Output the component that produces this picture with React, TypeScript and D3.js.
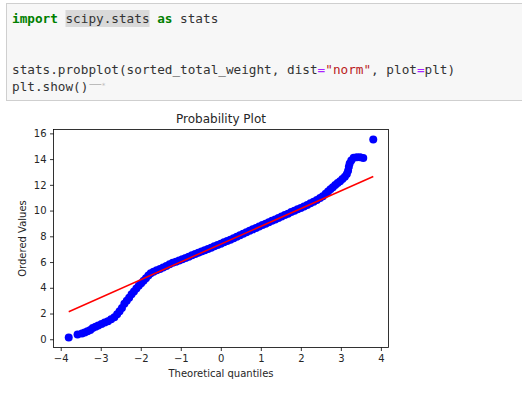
import React, { useEffect, useRef } from 'react';
import * as d3 from 'd3';

// theoretical quantiles (osm) and ordered values (osr)
const quantiles = [
  -3.8, -3.58, -3.47, -3.4, -3.33, -3.26, -3.2, -3.13, -3.06, -2.98, -2.9, -2.82,
  -2.74, -2.66, -2.59, -2.53, -2.47, -2.41, -2.35, -2.29, -2.23, -2.17, -2.11,
  -2.05, -1.99, -1.93, -1.87, -1.81, -1.75, -1.68, -1.6, -1.52, -1.44, -1.36,
  -1.28, -1.2, -1.12, -1.04, -0.96, -0.88, -0.8, -0.72, -0.64, -0.56, -0.48,
  -0.4, -0.32, -0.24, -0.16, -0.08, 0, 0.08, 0.16, 0.24, 0.32, 0.4, 0.48, 0.56,
  0.64, 0.72, 0.8, 0.88, 0.96, 1.04, 1.12, 1.2, 1.28, 1.36, 1.44, 1.52, 1.6,
  1.68, 1.76, 1.84, 1.92, 2.0, 2.08, 2.16, 2.24, 2.32, 2.4, 2.48, 2.55, 2.62,
  2.68, 2.74, 2.8, 2.86, 2.92, 2.98, 3.04, 3.1, 3.15, 3.18, 3.2, 3.22, 3.26,
  3.32, 3.4, 3.48, 3.56, 3.81,
];
const orderedValues = [
  0.13, 0.37, 0.45, 0.52, 0.62, 0.72, 0.88, 0.97, 1.07, 1.18, 1.3, 1.4, 1.55,
  1.72, 1.95, 2.18, 2.42, 2.75, 3.0, 3.22, 3.5, 3.72, 3.95, 4.15, 4.35, 4.55,
  4.75, 4.95, 5.12, 5.25, 5.36, 5.46, 5.58, 5.7, 5.82, 5.94, 6.03, 6.12, 6.22,
  6.32, 6.42, 6.52, 6.62, 6.72, 6.82, 6.92, 7.02, 7.12, 7.22, 7.32, 7.42, 7.54,
  7.64, 7.74, 7.85, 7.96, 8.08, 8.2, 8.32, 8.43, 8.54, 8.65, 8.76, 8.87, 8.98,
  9.09, 9.2, 9.31, 9.42, 9.53, 9.65, 9.76, 9.88, 9.99, 10.1, 10.2, 10.32, 10.44,
  10.56, 10.68, 10.82, 10.97, 11.12, 11.3, 11.48, 11.65, 11.82, 11.98, 12.14,
  12.28, 12.45, 12.62, 12.85, 13.1, 13.4, 13.65, 13.9, 14.1, 14.15, 14.15,
  14.08, 15.53,
];
const fitSlope = 1.381;
const fitIntercept = 7.39;
const xTicks = [-4, -3, -2, -1, 0, 1, 2, 3, 4];
const yTicks = [0, 2, 4, 6, 8, 10, 12, 14, 16];

const codeLines = [
  [['import', 'kw'], [' ', ''], ['scipy.stats', 'hl'], [' ', ''], ['as', 'kw'], [' stats', '']],
  [],
  [],
  [
    ['stats.probplot(sorted_total_weight, dist', ''],
    ['=', 'op'],
    ['"norm"', 'str'],
    [', plot', ''],
    ['=', 'op'],
    ['plt)', ''],
  ],
  [['plt.show()', '']],
];

const colorOf = { kw: '#008000', op: '#aa22ff', str: '#ba2121', hl: '#333', '': '#333' };

const M = { left: 53.5, right: 388.5, top: 129.5, bottom: 347.5 };

const App = () => {
  const xRef = useRef(null);
  const yRef = useRef(null);

  const pad = (a, b) => [a - (b - a) * 0.05, b + (b - a) * 0.05];
  const x = d3
    .scaleLinear()
    .domain(pad(d3.min(quantiles), d3.max(quantiles)))
    .range([M.left, M.right]);
  const y = d3
    .scaleLinear()
    .domain(pad(d3.min(orderedValues), d3.max(orderedValues)))
    .range([M.bottom, M.top]);

  useEffect(() => {
    const style = g => {
      g.select('.domain').remove();
      g.selectAll('.tick line').attr('stroke', '#000').attr('stroke-width', 0.8);
      g.selectAll('.tick text')
        .attr('fill', '#262626')
        .style('font-family', 'DejaVu Sans')
        .style('font-size', '10px');
    };
    d3.select(xRef.current)
      .call(d3.axisBottom(x).tickValues(xTicks).tickSize(3.5).tickPadding(3.5))
      .call(style);
    d3.select(yRef.current)
      .call(d3.axisLeft(y).tickValues(yTicks).tickSize(3.5).tickPadding(3.5))
      .call(style);
  }, [x, y]);

  const cw = 7.64;
  const [q0, q1] = d3.extent(quantiles);
  const fitLine = d3
    .line()
    .x(d => x(d))
    .y(d => y(fitSlope * d + fitIntercept));

  return (
    <svg width={522} height={395} style={{ position: 'absolute', left: 0, top: 0, background: '#fff' }}>
      <rect x={6.5} y={3.5} width={530} height={97} fill="#f7f7f7" stroke="#cfcfcf" />
      <g style={{ fontFamily: 'DejaVu Sans Mono', fontSize: '12.7px' }}>
        {codeLines.map((line, i) => {
          let col = 0;
          return line.map(([txt, kind], j) => {
            const x0 = 12 + col * cw;
            col += txt.length;
            return (
              <g key={`${i}-${j}`}>
                {kind === 'hl' && (
                  <rect x={x0} y={10 + i * 17} width={txt.length * cw} height={17} fill="#d9d9d9" />
                )}
                <text
                  x={x0}
                  y={23 + i * 17}
                  fill={colorOf[kind]}
                  fontWeight={kind === 'kw' ? 'bold' : 'normal'}
                  textLength={txt.length * cw}
                  xmlSpace="preserve"
                  style={{ whiteSpace: 'pre' }}
                >
                  {txt}
                </text>
              </g>
            );
          });
        })}
        <line x1={12 + 10 * cw + 1} x2={12 + 10 * cw + 13} y1={84.5} y2={84.5} stroke="#bbb" />
        <text x={12 + 10 * cw + 13} y={88} fontSize="7" fill="#bbb">*</text>
      </g>

      <g>
        {quantiles.map((q, i) => (
          <circle key={i} cx={x(q)} cy={y(orderedValues[i])} r={4} fill="#0000ff" />
        ))}
      </g>
      <path d={fitLine([q0, q1])} fill="none" stroke="#ff0000" strokeWidth={1.5} />
      <rect
        x={M.left}
        y={M.top}
        width={M.right - M.left}
        height={M.bottom - M.top}
        fill="none"
        stroke="#000"
        strokeWidth={0.8}
      />
      <g ref={xRef} transform={`translate(0,${M.bottom})`} />
      <g ref={yRef} transform={`translate(${M.left},0)`} />
      <text
        x={(M.left + M.right) / 2}
        y={123}
        textAnchor="middle"
        fill="#262626"
        style={{ fontFamily: 'DejaVu Sans', fontSize: '12px' }}
      >
        Probability Plot
      </text>
      <text
        x={(M.left + M.right) / 2}
        y={377}
        textAnchor="middle"
        fill="#262626"
        style={{ fontFamily: 'DejaVu Sans', fontSize: '10px' }}
      >
        Theoretical quantiles
      </text>
      <text
        transform={`translate(26,${(M.top + M.bottom) / 2}) rotate(-90)`}
        textAnchor="middle"
        fill="#262626"
        style={{ fontFamily: 'DejaVu Sans', fontSize: '10px' }}
      >
        Ordered Values
      </text>
    </svg>
  );
};

export default App;
